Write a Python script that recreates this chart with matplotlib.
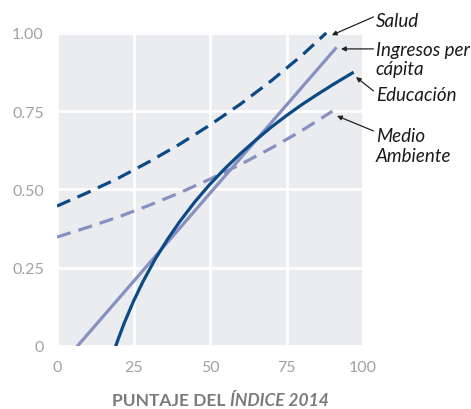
import matplotlib.pyplot as plt

# values
salud_x = [0, 10, 20, 30, 40, 50, 60, 70, 80, 88]
salud_y = [0.447, 0.490, 0.536, 0.588, 0.644, 0.706, 0.773, 0.847, 0.928, 1.0]

medio_x = [0, 10, 20, 30, 40, 50, 60, 70, 80, 90]
medio_y = [0.348, 0.379, 0.412, 0.449, 0.489, 0.533, 0.580, 0.632, 0.688, 0.750]

ingresos_x = [6.7, 91]
ingresos_y = [0.0, 0.95]

educ_x = [19.2, 20, 22, 25, 28, 32, 36, 40, 45, 50, 55, 60, 65, 70, 75, 80, 85, 90, 96.5]
educ_y = [0.0, 0.022, 0.074, 0.143, 0.204, 0.276, 0.339, 0.396, 0.460, 0.517,
          0.568, 0.615, 0.658, 0.699, 0.736, 0.771, 0.803, 0.834, 0.872]

xticks = [0, 25, 50, 75, 100]
xtick_labels = ['0', '25', '50', '75', '100']
yticks = [0, 0.25, 0.5, 0.75, 1.0]
ytick_labels = ['0', '0.25', '0.50', '0.75', '1.00']

dark = '#0c4a86'
light = '#8890c2'

plt.rcParams['font.family'] = ['Lato', 'DejaVu Sans']

fig = plt.figure(figsize=(4.71, 4.10), dpi=100)
ax = fig.add_axes([57 / 471, 63 / 410, 306 / 471, 314 / 410])
ax.set_facecolor('#ebecef')
for s in ax.spines.values():
    s.set_visible(False)

ax.set_xlim(0, 100)
ax.set_ylim(0, 1.003)
ax.set_xticks(xticks)
ax.set_xticklabels(xtick_labels)
ax.set_yticks(yticks)
ax.set_yticklabels(ytick_labels)
ax.tick_params(length=0, labelsize=11.5, colors='#a2a2a2', pad=10)
ax.tick_params(axis='y', pad=9.5)
ax.grid(True, color='white', linewidth=2)
ax.set_axisbelow(True)

lw = 2.3
ax.plot(salud_x, salud_y, color=dark, lw=lw, dashes=(4.5, 2.5))
ax.plot(medio_x, medio_y, color=light, lw=lw, dashes=(4.5, 2.5))
ax.plot(ingresos_x, ingresos_y, color=light, lw=lw)
ax.plot(educ_x, educ_y, color=dark, lw=lw)

# label lines: (text, x, baseline y)
label_lines = [
    ('Salud', 104.2, 1.022),
    ('Ingresos per', 104.2, 0.930),
    ('cápita', 104.2, 0.870),
    ('Educación', 104.2, 0.786),
    ('Medio', 104.2, 0.655),
    ('Ambiente', 104.2, 0.591),
]
for txt, tx, ty in label_lines:
    ax.text(tx, ty, txt, fontsize=13.5, style='italic', color='#1a1a1a',
            ha='left', va='baseline', clip_on=False)

# arrows: (tail, head)
arrows = [
    ((103.4, 1.051), (89.8, 0.993)),
    ((103.4, 0.949), (92.8, 0.949)),
    ((103.4, 0.815), (97.7, 0.859)),
    ((103.4, 0.687), (91.5, 0.735)),
]
for tail, head in arrows:
    ax.annotate('', xy=head, xytext=tail, annotation_clip=False,
                arrowprops=dict(arrowstyle='-|>', color='#222222', lw=0.9,
                                mutation_scale=7, shrinkA=0, shrinkB=0))

t1 = fig.text(112 / 471, 4 / 410, 'PUNTAJE DEL ', fontsize=12.5, fontweight='bold',
              color='#7b7b7b', ha='left', va='baseline')
fig.canvas.draw()
ax.annotate('ÍNDICE 2014', xy=(1, 0), xycoords=t1, fontsize=12.5, fontweight='bold',
            style='italic', color='#7b7b7b', ha='left', va='bottom',
            annotation_clip=False)

fig.savefig('out.png', dpi=100)
